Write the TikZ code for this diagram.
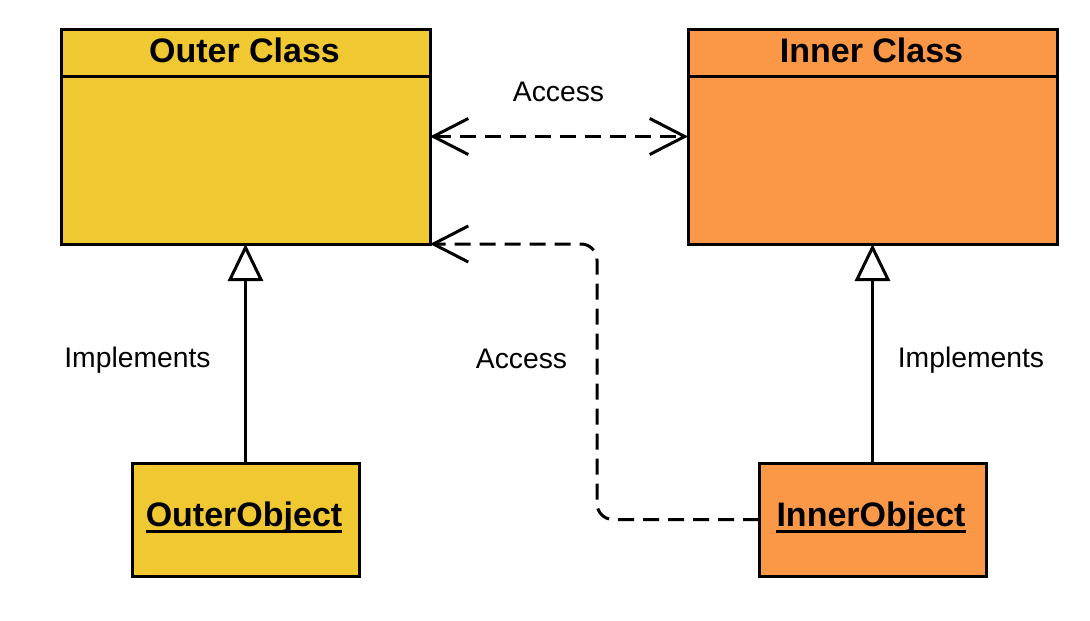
\documentclass[tikz,border=0pt]{standalone}
\usepackage{fontspec}
\setmainfont{Liberation Sans}
\usetikzlibrary{arrows.meta}
\definecolor{outerc}{RGB}{240,201,50}
\definecolor{innerc}{RGB}{251,152,72}
\begin{document}
\begin{tikzpicture}[x=1pt,y=1pt,
  box/.style={draw=black, line width=3pt, rectangle, inner sep=0pt, outer sep=0pt, anchor=north west},
  title/.style={font=\fontsize{34}{38}\selectfont\bfseries, inner sep=0pt},
  lbl/.style={font=\fontsize{28.3}{31}\selectfont, inner sep=0pt},
  uline/.style={line width=2.7pt},
  dsh/.style={line width=3pt, dash pattern=on 16pt off 9pt},
  inh/.style={line width=3pt, -{Triangle[open, length=37pt, width=35pt, fill=white]}},
  barb/.tip={Straight Barb[length=35pt,width=36pt]}
]
\useasboundingbox (0,0) rectangle (1090,-621);
% class boxes
\node[box, fill=outerc, minimum width=369pt, minimum height=215pt] (outer) at (61,-29) {};
\node[box, fill=innerc, minimum width=369pt, minimum height=215pt] (inner) at (688,-29) {};
\draw[line width=3pt] ([yshift=-47pt]outer.north west) -- ([yshift=-47pt]outer.north east);
\draw[line width=3pt] ([yshift=-47pt]inner.north west) -- ([yshift=-47pt]inner.north east);
\node[title] (outert) at (244.5,-50) {Outer Class};
\node[title] (innert) at (871.5,-50) {Inner Class};
% object boxes
\node[box, fill=outerc, minimum width=227pt, minimum height=113pt] (outerobj) at (132,-463) {};
\node[box, fill=innerc, minimum width=227pt, minimum height=113pt] (innerobj) at (759,-463) {};
\node[title, anchor=base] (outerobjt) at (244,-526) {OuterObject};
\node[title, anchor=base] (innerobjt) at (871,-526) {InnerObject};
\draw[uline] ([yshift=-5.5pt]outerobjt.base west) -- ([yshift=-5.5pt]outerobjt.base east);
\draw[uline] ([yshift=-5.5pt]innerobjt.base west) -- ([yshift=-5.5pt]innerobjt.base east);
% inheritance
\draw[inh] (outerobj.north) -- (outer.south);
\draw[inh] (innerobj.north) -- (inner.south);
\node[lbl] (impl1) at (137.5,-360.5) {Implements};
\node[lbl] (impl2) at (971,-360.5) {Implements};
% access arrows
\draw[dsh, barb-barb] (outer.east) -- (inner.west);
\node[lbl] (acc1) at (558.5,-92) {Access};
\coordinate (c1) at (597,-519.5);
\coordinate (c2) at (597,-244);
\draw[dsh, rounded corners=16pt, -barb] (innerobj.west) -- (c1) -- (c2) -- (outer.south east);
\node[lbl] (acc2) at (521.5,-359) {Access};
\end{tikzpicture}
\end{document}
